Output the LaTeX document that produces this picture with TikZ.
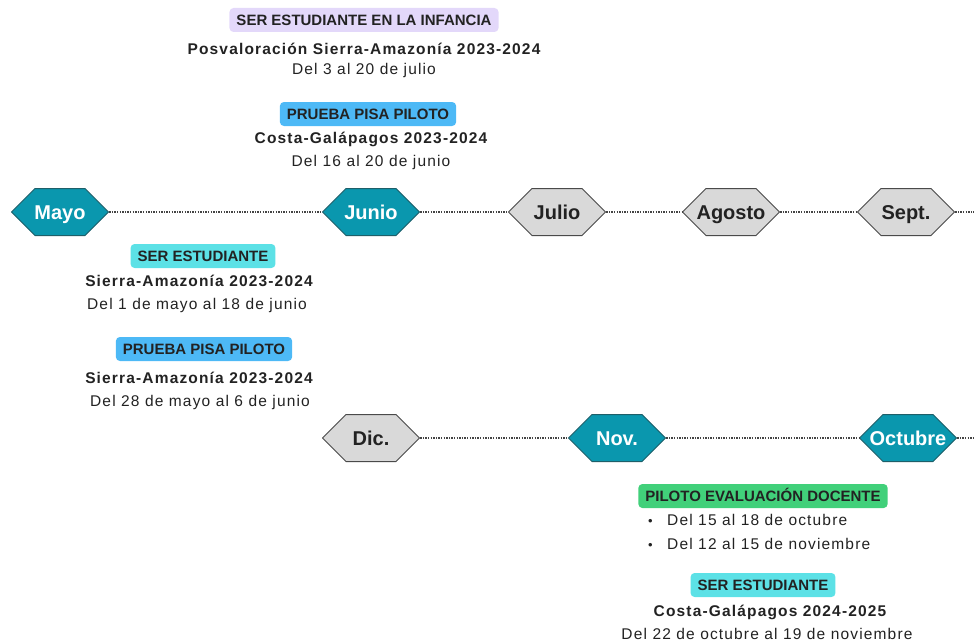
\documentclass[tikz,border=0pt]{standalone}
\usepackage{fontspec}
\setmainfont{Liberation Sans}
\newfontfamily\spacedfont[LetterSpace=7.5]{Liberation Sans}
\definecolor{tealfill}{HTML}{0A97AE}
\definecolor{tealline}{HTML}{1E5F69}
\definecolor{grayfill}{HTML}{D9D9D9}
\definecolor{grayline}{HTML}{4A4A4A}
\definecolor{dotcol}{HTML}{444444}
\definecolor{lavender}{HTML}{E3D8FA}
\definecolor{pisablue}{HTML}{4DB9F6}
\definecolor{sercyan}{HTML}{5CE1E6}
\definecolor{docgreen}{HTML}{41D07A}
\definecolor{ink}{HTML}{222222}
\newcommand\hexpath[2]{%
  \draw[fill=#1,draw=#2,line width=1pt]
    ([xshift=0.5pt]path picture bounding box.west)
 -- ([xshift=24pt,yshift=-0.5pt]path picture bounding box.north west)
 -- ([xshift=-24pt,yshift=-0.5pt]path picture bounding box.north east)
 -- ([xshift=-0.5pt]path picture bounding box.east)
 -- ([xshift=-24pt,yshift=0.5pt]path picture bounding box.south east)
 -- ([xshift=24pt,yshift=0.5pt]path picture bounding box.south west)
 -- cycle;}
\begin{document}
\begin{tikzpicture}[x=1pt,y=-1pt,
  hexbase/.style={minimum width=98pt, minimum height=48pt, inner sep=0pt,
    font=\bfseries\fontsize{20}{20}\selectfont, text height=14pt, text depth=0pt},
  hexteal/.style={hexbase, text=white, path picture={\hexpath{tealfill}{tealline}}},
  hexgray/.style={hexbase, text=ink, path picture={\hexpath{grayfill}{grayline}}},
  dotline/.style={draw=dotcol, line width=2.4pt, dash pattern=on 1.4pt off 1.2pt},
  tag/.style={rounded corners=4pt, font=\bfseries\fontsize{15}{15}\selectfont, text=ink,
    inner xsep=7pt, inner ysep=6.5pt, text height=11pt, text depth=0pt},
  bodybold/.style={font=\spacedfont\bfseries\fontsize{15.5}{15.5}\selectfont, text=ink,
    inner sep=0pt, text height=11pt, text depth=0pt},
  bodyreg/.style={font=\spacedfont\fontsize{15.5}{15.5}\selectfont, text=ink,
    inner sep=0pt, text height=11pt, text depth=0pt}
]
\useasboundingbox (0,0) rectangle (974,642);

% months, top row
\node[hexteal] (mayo)   at (60,212)  {Mayo};
\node[hexteal] (junio)  at (371,212) {Junio};
\node[hexgray] (julio)  at (557,212) {Julio};
\node[hexgray] (agosto) at (731,212) {Agosto};
\node[hexgray] (sept)   at (906,212) {Sept.};
\coordinate (edge1) at (974,212);
% months, bottom row
\node[hexgray] (dic)     at (371,438) {Dic.};
\node[hexteal] (nov)     at (617,438) {Nov.};
\node[hexteal] (octubre) at (908,438) {Octubre};
\coordinate (edge2) at (974,438);

\draw[dotline] (mayo.east) -- (junio.west);
\draw[dotline] (junio.east) -- (julio.west);
\draw[dotline] (julio.east) -- (agosto.west);
\draw[dotline] (agosto.east) -- (sept.west);
\draw[dotline] (sept.east) -- (edge1);
\draw[dotline] (dic.east) -- (nov.west);
\draw[dotline] (nov.east) -- (octubre.west);
\draw[dotline] (octubre.east) -- (edge2);

% top events
\node[tag, fill=lavender] (t1) at (364,20) {SER ESTUDIANTE EN LA INFANCIA};
\node[bodybold] (t1a) at (364,49) {Posvaloración Sierra-Amazonía 2023-2024};
\node[bodyreg]  (t1b) at (364,69) {Del 3 al 20 de julio};

\node[tag, fill=pisablue] (t2) at (368,114) {PRUEBA PISA PILOTO};
\node[bodybold] (t2a) at (371,138) {Costa-Galápagos 2023-2024};
\node[bodyreg]  (t2b) at (371,161) {Del 16 al 20 de junio};

% middle-left events
\node[tag, fill=sercyan] (m1) at (203,256) {SER ESTUDIANTE};
\node[bodybold] (m1a) at (199,281) {Sierra-Amazonía 2023-2024};
\node[bodyreg]  (m1b) at (197,304) {Del 1 de mayo al 18 de junio};

\node[tag, fill=pisablue] (m2) at (204,349) {PRUEBA PISA PILOTO};
\node[bodybold] (m2a) at (199,378) {Sierra-Amazonía 2023-2024};
\node[bodyreg]  (m2b) at (200,401) {Del 28 de mayo al 6 de junio};

% bottom events
\node[tag, fill=docgreen] (b1) at (763,496) {PILOTO EVALUACIÓN DOCENTE};
\node[bodyreg, anchor=west] (b1a) at (648,520) {\makebox[19pt][l]{\fontsize{13}{13}\selectfont•}Del 15 al 18 de octubre};
\node[bodyreg, anchor=west] (b1b) at (648,544) {\makebox[19pt][l]{\fontsize{13}{13}\selectfont•}Del 12 al 15 de noviembre};

\node[tag, fill=sercyan] (b2) at (763,585) {SER ESTUDIANTE};
\node[bodybold] (b2a) at (770,611) {Costa-Galápagos 2024-2025};
\node[bodyreg]  (b2b) at (767,634) {Del 22 de octubre al 19 de noviembre};
\end{tikzpicture}
\end{document}
